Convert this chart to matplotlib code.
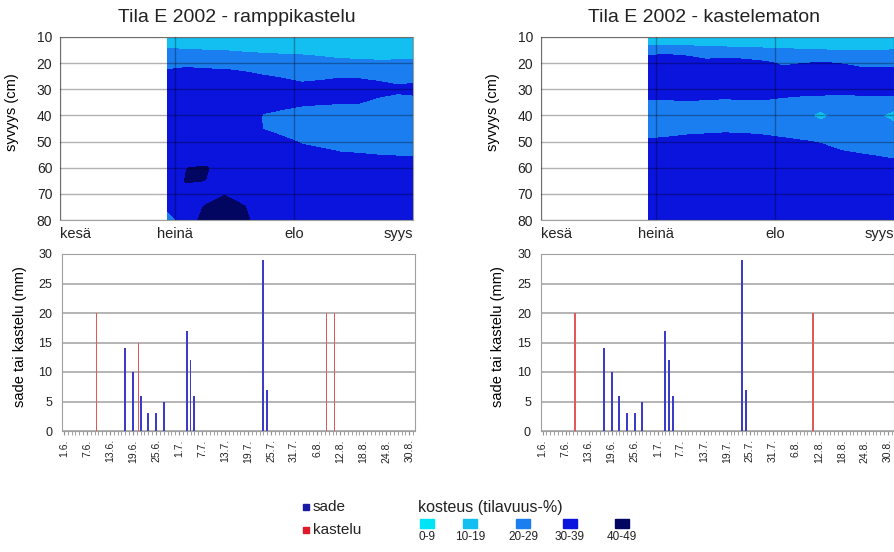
import numpy as np
import pandas as pd
import matplotlib
matplotlib.use('Agg')
import matplotlib.pyplot as plt
from matplotlib.patches import Rectangle

plt.rcParams['font.family'] = ['Liberation Sans', 'DejaVu Sans']
plt.rcParams['text.color'] = '#222222'
plt.rcParams['xtick.color'] = '#222222'
plt.rcParams['ytick.color'] = '#222222'

# ── data ─────────────────────────────────────────────────────────────────────
START = pd.Timestamp('2002-06-01')

month_labels = ['kesä', 'heinä', 'elo', 'syys']
month_dates = ['2002-06-01', '2002-07-01', '2002-08-01', '2002-09-01']

day_labels = ['1.6.', '7.6.', '13.6.', '19.6.', '25.6.', '1.7.', '7.7.', '13.7.',
              '19.7.', '25.7.', '31.7.', '6.8.', '12.8.', '18.8.', '24.8.', '30.8.']

depths = [10, 15, 20, 25, 30, 35, 40, 45, 50, 55, 60, 65, 70, 75, 80]
meas_dates = ['2002-06-29', '2002-07-04', '2002-07-09', '2002-07-14', '2002-07-19',
              '2002-07-24', '2002-07-29', '2002-08-03', '2002-08-08', '2002-08-13',
              '2002-08-18', '2002-08-23', '2002-08-28', '2002-09-01']

# soil moisture (vol-%), one profile (10..80 cm) per measurement date
moist_ramppi = [
    [12, 21.0, 27.0, 33.0, 35, 35.0, 35, 35.0, 35.0, 35.0, 35.0, 35.0, 35.0, 32.0, 26],
    [12, 20.5, 28.0, 34.0, 35.5, 36, 36, 36, 36, 37, 39.9, 40.6, 36.5, 36.0, 34.5],
    [12, 19.9, 26.5, 34.5, 36, 36, 36, 36, 36, 36, 40.6, 39.9, 37.0, 40.6, 44],
    [12, 19.7, 26.0, 34.5, 36, 36, 36, 36, 36, 36, 37.0, 37.0, 39.5, 43.5, 47],
    [12, 19.5, 22.5, 34.0, 36, 36, 35, 35, 36, 36, 36.0, 36.0, 37.0, 40.3, 42],
    [12, 19.0, 23.0, 30.5, 35, 33.0, 29.5, 29.7, 34, 36, 36, 36, 36, 36, 35],
    [12, 19.3, 21.5, 29.0, 35, 33.5, 27, 27, 32, 35, 35, 35, 35, 35, 35],
    [12, 19.3, 21.2, 27.0, 33.5, 31.5, 26, 25, 29.2, 33, 35, 35, 35, 35, 35],
    [12, 19.5, 20.5, 28.0, 34, 31.0, 25, 24, 28, 32, 35, 35, 35, 35, 35],
    [12, 19.2, 20.4, 29.3, 34, 30.5, 25, 23, 26, 31, 34, 35, 35, 35, 35],
    [12, 19.3, 20.3, 29.0, 34, 30.3, 25, 22, 25, 30.5, 34, 35, 35, 35, 35],
    [12, 19.3, 20.2, 28.0, 33, 28.0, 24, 22, 24, 29.8, 34, 35, 35, 35, 35],
    [12, 19.4, 20.2, 27.0, 31.5, 27.0, 24, 22, 24, 29.5, 34, 35, 35, 35, 35],
    [12, 19.4, 20.2, 27.5, 32, 27.5, 24, 22, 24, 29.5, 34, 35, 35, 35, 35],
]
moist_kastelematon = [
    [12, 24.5, 38.0, 37, 36, 28.5, 25, 26.0, 31.0, 35, 36, 36, 36, 36, 36],
    [12, 25.0, 39.5, 37, 36, 28.5, 25, 26.0, 32.0, 35, 36, 36, 36, 36, 36],
    [12, 24.0, 37.0, 37, 36, 29.0, 25, 27.0, 33.0, 35, 36, 36, 36, 36, 36],
    [12, 23.0, 33.0, 37, 36, 28.5, 25, 27.5, 33.5, 35, 36, 36, 36, 36, 36],
    [12, 22.5, 34.5, 37, 35, 28.0, 25, 28.0, 34.0, 35, 36, 36, 36, 36, 36],
    [12, 22.0, 33.5, 37, 36, 28.5, 25, 27.5, 34.0, 35, 36, 36, 36, 36, 36],
    [12, 21.5, 31.5, 37, 36, 28.5, 25, 27.0, 33.0, 35, 36, 36, 36, 36, 36],
    [12, 21.0, 29.0, 33.5, 35, 27.0, 24, 26.5, 31.5, 35, 36, 36, 36, 36, 36],
    [12, 20.5, 29.8, 35, 34, 26.0, 23, 25.5, 30.5, 35, 36, 36, 36, 36, 36],
    [12, 20.1, 30.5, 35, 34, 25.0, 17.5, 24.0, 29.5, 33, 35, 36, 36, 36, 36],
    [12, 19.9, 29.8, 35, 33.5, 25.0, 23, 23.0, 27.0, 31.5, 35, 36, 36, 36, 36],
    [12, 19.8, 27.0, 37, 34, 25.0, 23, 23.0, 26.0, 30.3, 35, 36, 36, 36, 36],
    [12, 19.9, 27.0, 37, 34, 25.0, 21, 23.0, 25.0, 29.5, 33, 35, 36, 36, 36],
    [12, 20.1, 27.0, 37, 34, 25.0, 17, 23.0, 25.0, 29.0, 32, 35, 36, 36, 36],
]

moist_levels = [0, 10, 20, 30, 40, 50]
moist_labels = ['0-9', '10-19', '20-29', '30-39', '40-49']
moist_colors = ['#00e4f6', '#12bff0', '#1a7ef0', '#0a14dc', '#020660']

# rain and irrigation (mm)
sade_dates = ['2002-06-17', '2002-06-19', '2002-06-21', '2002-06-23', '2002-06-25',
              '2002-06-27', '2002-07-03', '2002-07-04', '2002-07-05', '2002-07-23',
              '2002-07-24']
sade_mm = [14, 10, 6, 3, 3, 5, 17, 12, 6, 29, 7]

kastelu_ramppi_dates = ['2002-06-09', '2002-06-20', '2002-08-08', '2002-08-10']
kastelu_ramppi_mm = [20, 15, 20, 20]
kastelu_kastelematon_dates = ['2002-06-09', '2002-08-10']
kastelu_kastelematon_mm = [20, 20]

SADE_COLOR = '#3c3cc8'
KASTELU_COLOR = '#e05a5a'
GRID_GRAY = '#a8a8a8'


def to_day(dates):
    return np.array([(pd.Timestamp(d) - START).days for d in dates])


def label_day(lbl):
    d, m = lbl.strip('.').split('.')
    return (pd.Timestamp(2002, int(m), int(d)) - START).days


# ── layout helpers (pixels of a 894x552 canvas) ──────────────────────────────
W, H = 894, 552


def rect(l, t, r, b):
    return [l / W, 1 - b / H, (r - l) / W, (b - t) / H]


fig = plt.figure(figsize=(W / 100, H / 100), dpi=100)

panels = [
    dict(title='Tila E 2002 - ramppikastelu', title_x=237, moist=moist_ramppi,
         k_dates=kastelu_ramppi_dates, k_mm=kastelu_ramppi_mm,
         top=rect(60, 37, 413, 220), bot=rect(62, 254, 415, 431)),
    dict(title='Tila E 2002 - kastelematon', title_x=704, moist=moist_kastelematon,
         k_dates=kastelu_kastelematon_dates, k_mm=kastelu_kastelematon_mm,
         top=rect(540.7, 37, 893.7, 220), bot=rect(540.7, 254, 893.7, 431)),
]

for p in panels:
    # ── moisture contour ──
    ax = fig.add_axes(p['top'])
    Z = np.array(p['moist']).T
    ax.contourf(to_day(meas_dates), depths, Z, levels=moist_levels,
                colors=moist_colors, zorder=1)
    ax.set_xlim(0, to_day(['2002-09-01'])[0])
    ax.set_ylim(80, 10)
    ax.set_yticks(depths[::2])
    ax.set_xticks(to_day(month_dates), month_labels)
    tl = ax.get_xticklabels()
    tl[0].set_ha('left')
    tl[-1].set_ha('right')
    ax.set_axisbelow(False)
    ax.grid(True, color='black', alpha=0.3, lw=1.0)
    ax.tick_params(axis='x', length=0, pad=5, labelsize=10.5)
    ax.tick_params(axis='y', length=0, pad=5.5, labelsize=10)
    for s in ax.spines.values():
        s.set_color('#a0a0a0')
    ax.set_ylabel('syvyys (cm)', fontsize=10.5, va='center')
    ax.yaxis.set_label_coords(-0.135, 0.59)
    fig.text(p['title_x'] / W, 1 - 18 / H, p['title'], fontsize=14,
             ha='center', va='center')

    # ── rain / irrigation bars ──
    ax2 = fig.add_axes(p['bot'])
    ax2.bar(to_day(sade_dates), sade_mm, width=0.5, color=SADE_COLOR, zorder=3)
    ax2.bar(to_day(p['k_dates']) + 0.45, p['k_mm'], width=0.3,
            color=KASTELU_COLOR, zorder=3)
    ax2.set_xlim(-0.5, 91.5)
    ax2.set_ylim(0, 30)
    ax2.set_yticks(range(0, 31, 5))
    ax2.set_xticks([label_day(l) for l in day_labels], day_labels, rotation=90)
    ax2.set_xticks(range(0, 92), minor=True)
    ax2.grid(axis='y', color=GRID_GRAY, lw=1.2)
    ax2.set_axisbelow(True)
    ax2.tick_params(axis='x', which='both', length=3, color='#909090',
                    labelsize=7.5, pad=3)
    ax2.tick_params(axis='y', length=0, pad=7, labelsize=9)
    for s in ax2.spines.values():
        s.set_color('#a0a0a0')
    ax2.set_ylabel('sade tai kastelu (mm)', fontsize=10.5, va='center')
    ax2.yaxis.set_label_coords(-0.12, 0.533)

# ── legends ──────────────────────────────────────────────────────────────────
for (name, col), yc in zip([('sade', '#1a1aa6'), ('kastelu', '#e0182a')], [507, 530]):
    fig.add_artist(Rectangle(((303) / W, 1 - (yc + 3) / H), 6 / W, 6 / H,
                             transform=fig.transFigure, color=col))
    fig.text(313 / W, 1 - yc / H, name, fontsize=11, ha='left', va='center')

fig.text(418 / W, 1 - 507.5 / H, 'kosteus (tilavuus-%)', fontsize=11.5,
         ha='left', va='center')
for lbl, col, xc in zip(moist_labels, moist_colors, [427, 470, 523, 570, 622]):
    fig.add_artist(Rectangle(((xc - 7) / W, 1 - 528 / H), 14 / W, 9 / H,
                             transform=fig.transFigure, color=col))
    fig.text(xc / W, 1 - 537 / H, lbl, fontsize=8.5, ha='center', va='center')

fig.savefig('out.png', dpi=100, facecolor='white')
